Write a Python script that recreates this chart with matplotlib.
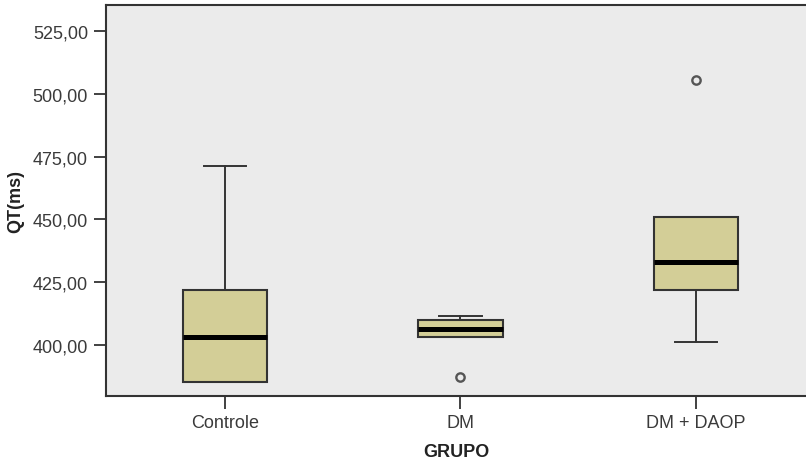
import matplotlib
matplotlib.use('Agg')
import matplotlib.pyplot as plt

plt.rcParams['font.family'] = ['Liberation Sans', 'DejaVu Sans']

# values
groups = ['Controle', 'DM', 'DM + DAOP']
q1 = [385.0, 403.2, 421.9]
med = [403.1, 406.2, 433.1]
q3 = [421.8, 410.0, 450.8]
whislo = [385.0, 403.2, 401.0]
whishi = [471.1, 411.4, 450.8]
fliers = [[], [387.0], [505.7]]
yticks = [400, 425, 450, 475, 500, 525]

stats = []
for i in range(len(groups)):
    stats.append({'label': groups[i], 'q1': q1[i], 'med': med[i], 'q3': q3[i],
                  'whislo': whislo[i], 'whishi': whishi[i], 'fliers': fliers[i]})

fig = plt.figure(figsize=(8.06, 4.64), dpi=100)
ax = fig.add_axes([106 / 806, 1 - 396.7 / 464, 1 - 106 / 806, (396.7 - 5.7) / 464])
ax.set_facecolor('#EBEBEB')

edge = '#333333'
ax.bxp(stats, positions=[1, 2, 3], widths=0.36, capwidths=0.18, patch_artist=True,
       boxprops=dict(facecolor='#D3CE97', edgecolor=edge, linewidth=1.5),
       medianprops=dict(color='black', linewidth=3.6, solid_capstyle='butt'),
       whiskerprops=dict(color=edge, linewidth=1.4),
       capprops=dict(color=edge, linewidth=1.4),
       flierprops=dict(marker='o', markerfacecolor='none', markeredgecolor='#555555',
                       markersize=6, markeredgewidth=1.7))

ax.set_xlim(0.495, 3.467)
ax.set_ylim(379.7, 535.6)
ax.set_yticks(yticks)
ax.set_yticklabels([f'{v:.2f}'.replace('.', ',') for v in yticks])
ax.set_xticks([1, 2, 3])
ax.set_xticklabels(groups)

ax.tick_params(axis='both', length=9, width=1.3, color=edge, labelsize=13,
               labelcolor='#3a3a3a', pad=4)
for side in ['left', 'bottom', 'top']:
    ax.spines[side].set_color(edge)
    ax.spines[side].set_linewidth(1.5)
ax.spines['right'].set_visible(False)

ax.set_xlabel('GRUPO', fontsize=13, fontweight='bold', color='#222222', labelpad=9)
ax.set_ylabel('QT(ms)', fontsize=13, fontweight='bold', color='#222222', labelpad=6)

fig.savefig('out.png', dpi=100)
